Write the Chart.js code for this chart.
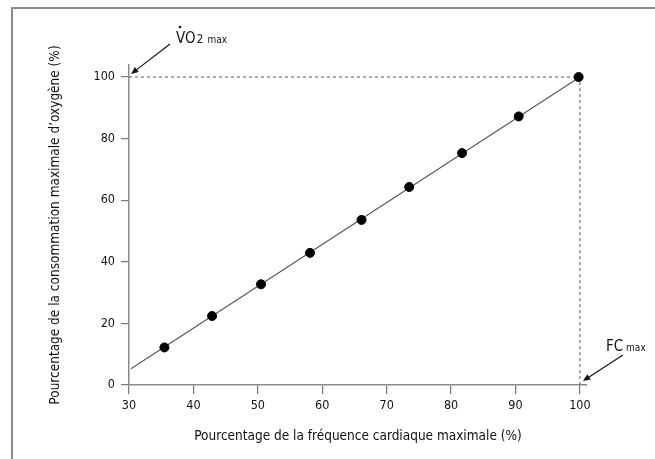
<!DOCTYPE html>
<html>
<head>
<meta charset="utf-8">
<script src="https://cdn.jsdelivr.net/npm/chart.js@4"></script>
<style>
  body { margin: 0; background: #fff; }
  #wrap { position: relative; width: 655px; height: 459px; }
  #frame { position: absolute; left: 11px; top: 7px; right: -5px; bottom: -5px;
           border-top: 2px solid #8a8a8a; border-left: 2px solid #8a8a8a; }
  canvas { position: absolute; left: 0; top: 0; }
</style>
</head>
<body>
<div id="wrap">
  <div id="frame"></div>
  <canvas id="vo2Chart"></canvas>
</div>
<script>
// measured points (% FC max vs % VO2 max)
const hrPct = [35.5, 42.9, 50.5, 58.1, 66.1, 73.5, 81.7, 90.5, 99.8];
const vo2Pct = [12.2, 22.4, 32.7, 42.9, 53.6, 64.3, 75.3, 87.2, 100];

// fitted straight line
const fitX = [30.3, 100];
const fitY = [5.3, 100];

// dotted guide to the max values
const guideX = [30, 100, 100];
const guideY = [100, 100, 0];

const xTicks = [30, 40, 50, 60, 70, 80, 90, 100];
const yTicks = [0, 20, 40, 60, 80, 100];

const FONT = "'DejaVu Sans Condensed', 'DejaVu Sans', sans-serif";
const toPts = (xs, ys) => xs.map((x, i) => ({ x: x, y: ys[i] }));

const drawArrow = (ctx, x1, y1, x2, y2) => {
    const a = Math.atan2(y2 - y1, x2 - x1);
    ctx.beginPath();
    ctx.moveTo(x1, y1);
    ctx.lineTo(x2 - 6 * Math.cos(a), y2 - 6 * Math.sin(a));
    ctx.stroke();
    ctx.beginPath();
    ctx.moveTo(x2, y2);
    ctx.lineTo(x2 - 8 * Math.cos(a - 0.4), y2 - 8 * Math.sin(a - 0.4));
    ctx.lineTo(x2 - 8 * Math.cos(a + 0.4), y2 - 8 * Math.sin(a + 0.4));
    ctx.closePath();
    ctx.fill();
};

// VO2 max / FC max labels with arrows
const labelsPlugin = {
    id: 'maxLabels',
    afterDraw(chart) {
        const ctx = chart.ctx;
        const xs = chart.scales.x, ys = chart.scales.y;
        const px30 = xs.getPixelForValue(30), py100 = ys.getPixelForValue(100);
        const px100 = xs.getPixelForValue(100), py0 = ys.getPixelForValue(0);
        ctx.save();
        ctx.fillStyle = '#111';
        ctx.strokeStyle = '#111';
        ctx.lineWidth = 1.2;
        ctx.textBaseline = 'alphabetic';
        ctx.textAlign = 'left';

        // V̇O2 max
        const vx = px30 + 47, vy = py100 - 34;
        ctx.font = '15px ' + FONT;
        ctx.fillText('VO', vx, vy);
        const wVO = ctx.measureText('VO').width;
        ctx.beginPath();
        ctx.arc(vx + 4, vy - 16, 1.3, 0, Math.PI * 2);
        ctx.fill();
        ctx.font = '12px ' + FONT;
        ctx.fillText('2', vx + wVO + 1, vy);
        ctx.font = '10px ' + FONT;
        ctx.fillText('max', vx + wVO + 12, vy);
        drawArrow(ctx, px30 + 41, py100 - 33, px30 + 2, py100 - 3);

        // FC max
        const fx = px100 + 26, fy = py0 - 34;
        ctx.font = '15px ' + FONT;
        ctx.fillText('FC', fx, fy);
        const wFC = ctx.measureText('FC').width;
        ctx.font = '10px ' + FONT;
        ctx.fillText('max', fx + wFC + 3, fy);
        drawArrow(ctx, px100 + 43, py0 - 30, px100 + 3, py0 - 4);
        ctx.restore();
    }
};

const ctx = document.getElementById('vo2Chart').getContext('2d');
const vo2Chart = new Chart(ctx, {
    type: 'scatter',
    data: {
        datasets: [
            {
                data: toPts(hrPct, vo2Pct),
                backgroundColor: '#000',
                borderColor: '#000',
                pointRadius: 4.5,
                pointHoverRadius: 4.5
            },
            {
                data: toPts(fitX, fitY),
                showLine: true,
                borderColor: '#555',
                borderWidth: 1.1,
                pointRadius: 0
            },
            {
                data: toPts(guideX, guideY),
                showLine: true,
                borderColor: '#555',
                borderWidth: 1,
                borderDash: [3, 3],
                pointRadius: 0
            }
        ]
    },
    options: {
        responsive: true,
        maintainAspectRatio: false,
        animation: false,
        layout: { padding: { left: 47, top: 65, right: 68, bottom: 14 } },
        plugins: { legend: { display: false }, tooltip: { enabled: false } },
        scales: {
            x: {
                type: 'linear',
                min: 30,
                max: 101.1,
                afterBuildTicks: (scale) => { scale.ticks = xTicks.map(v => ({ value: v })); },
                afterFit: (scale) => { scale.height = 60; },
                grid: { drawOnChartArea: false, color: '#777', lineWidth: 1.2, tickLength: 9 },
                border: { color: '#8a8a8a', width: 1.5 },
                ticks: { color: '#111', padding: 4, maxRotation: 0, font: { family: FONT, size: 12.5 } },
                title: {
                    display: true,
                    text: 'Pourcentage de la fréquence cardiaque maximale (%)',
                    color: '#111',
                    padding: 0,
                    font: { family: FONT, size: 13.5 }
                }
            },
            y: {
                type: 'linear',
                min: 0,
                max: 103.9,
                afterBuildTicks: (scale) => { scale.ticks = yTicks.map(v => ({ value: v })); },
                afterFit: (scale) => { scale.width = 82; },
                grid: { drawOnChartArea: false, color: '#777', lineWidth: 1.2, tickLength: 8 },
                border: { color: '#8a8a8a', width: 1.5 },
                ticks: { color: '#111', padding: 6, font: { family: FONT, size: 12.5 } },
                title: {
                    display: true,
                    text: 'Pourcentage de la consommation maximale d\u2019oxygène (%)',
                    color: '#111',
                    padding: 0,
                    font: { family: FONT, size: 13.5 }
                }
            }
        }
    },
    plugins: [labelsPlugin]
});
</script>
</body>
</html>
